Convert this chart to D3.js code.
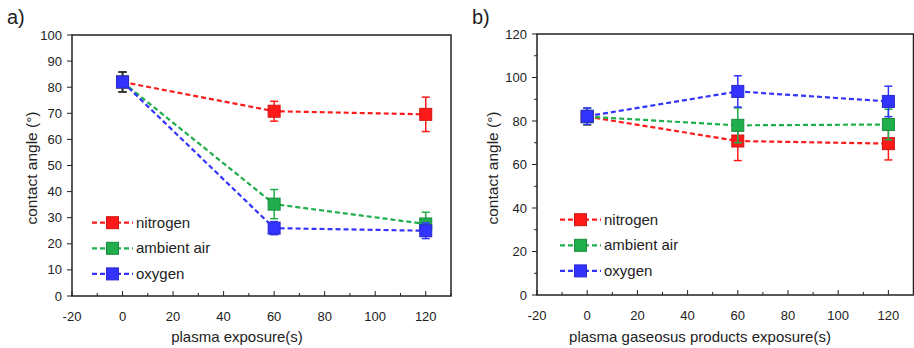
<!DOCTYPE html>
<html>
<head>
<meta charset="utf-8">
<script src="https://cdn.jsdelivr.net/npm/d3@7"></script>
<style>
  body { margin: 0; background: #fff; }
  svg text { font-family: "Liberation Sans", Arial, sans-serif; fill: #222; }
</style>
</head>
<body>
<div id="chart"></div>
<script>
const WIDTH = 914;
const HEIGHT = 348;

// data
const times = [0, 60, 120];
const seriesNames = ["nitrogen", "ambient air", "oxygen"];
const seriesColors = ["#ff1a1a", "#1fae4b", "#3333ff"];

// panel a) plasma exposure
const aNitrogen = [82, 70.8, 69.6];
const aNitrogenErr = [3.8, 3.8, 6.6];
const aAir = [82, 35.2, 27.6];
const aAirErr = [3.8, 5.6, 4.5];
const aOxygen = [82, 26.0, 25.0];
const aOxygenErr = [3.8, 2.5, 3.0];
const aYTicks = [0, 10, 20, 30, 40, 50, 60, 70, 80, 90, 100];

// panel b) plasma gaseous products exposure
const bNitrogen = [82, 70.8, 69.6];
const bNitrogenErr = [3.8, 9.0, 7.5];
const bAir = [82, 78.0, 78.4];
const bAirErr = [3.8, 8.0, 7.0];
const bOxygen = [82.2, 93.6, 89.0];
const bOxygenErr = [3.8, 7.2, 7.0];
const bYTicks = [0, 20, 40, 60, 80, 100, 120];
const bYMinor = [10, 30, 50, 70, 90, 110];

const xTicks = [-20, 0, 20, 40, 60, 80, 100, 120];
const xMinor = [-10, 10, 30, 50, 70, 90, 110, 130];

const svg = d3.select('#chart').append('svg')
  .attr('width', WIDTH)
  .attr('height', HEIGHT);

function drawPanel(opt) {
  const g = svg.append('g');
  const x = d3.scaleLinear().domain([-20, 130]).range([opt.left, opt.right]);
  const y = d3.scaleLinear().domain([0, opt.yMax]).range([opt.bottom, opt.top]);

  // panel letter
  g.append('text')
    .attr('x', opt.letterX).attr('y', 24)
    .style('font-size', '20px')
    .text(opt.letter);

  // y axis ticks (outward)
  g.selectAll('.ytick').data(opt.yTicks).enter().append('line')
    .attr('x1', opt.left - 5).attr('x2', opt.left)
    .attr('y1', d => y(d)).attr('y2', d => y(d))
    .attr('stroke', '#222').attr('stroke-width', 1);
  g.selectAll('.yminor').data(opt.yMinor).enter().append('line')
    .attr('x1', opt.left - 3).attr('x2', opt.left)
    .attr('y1', d => y(d)).attr('y2', d => y(d))
    .attr('stroke', '#222').attr('stroke-width', 1);
  g.selectAll('.ylab').data(opt.yTicks).enter().append('text')
    .attr('x', opt.left - 10).attr('y', d => y(d) + 4.5)
    .attr('text-anchor', 'end')
    .style('font-size', '13px')
    .text(d => d);

  // x axis ticks (inward)
  g.selectAll('.xtick').data(xTicks).enter().append('line')
    .attr('x1', d => x(d)).attr('x2', d => x(d))
    .attr('y1', opt.bottom).attr('y2', opt.bottom - 5)
    .attr('stroke', '#222').attr('stroke-width', 1);
  g.selectAll('.xminor').data(xMinor).enter().append('line')
    .attr('x1', d => x(d)).attr('x2', d => x(d))
    .attr('y1', opt.bottom).attr('y2', opt.bottom - 3)
    .attr('stroke', '#222').attr('stroke-width', 1);
  g.selectAll('.xlab').data(xTicks).enter().append('text')
    .attr('x', d => x(d)).attr('y', opt.bottom + 25)
    .attr('text-anchor', 'middle')
    .style('font-size', '13px')
    .text(d => d);

  // frame
  g.append('rect')
    .attr('x', opt.left).attr('y', opt.top)
    .attr('width', opt.right - opt.left).attr('height', opt.bottom - opt.top)
    .attr('fill', 'none').attr('stroke', '#222').attr('stroke-width', 1.5);

  // axis titles
  g.append('text')
    .attr('x', (opt.titleX)).attr('y', 342)
    .attr('text-anchor', 'middle')
    .style('font-size', '15px')
    .text(opt.xTitle);
  g.append('text')
    .attr('transform', 'translate(' + opt.yTitleX + ',' + opt.yTitleY + ') rotate(-90)')
    .attr('text-anchor', 'middle')
    .style('font-size', '15.5px')
    .text('contact angle (°)');

  const line = d3.line().x(d => x(d.t)).y(d => y(d.v));

  opt.series.forEach((s, si) => {
    const pts = times.map((t, i) => ({ t: t, v: s.values[i], e: s.errs[i] }));
    const color = seriesColors[si];
    // dashed line
    g.append('path')
      .datum(pts)
      .attr('d', line)
      .attr('fill', 'none')
      .attr('stroke', color)
      .attr('stroke-width', 2.2)
      .attr('stroke-dasharray', '5,3');
    // error bars
    const eb = g.selectAll('.eb' + si).data(pts).enter().append('g')
      .attr('stroke', (d, i) => (i === 0 && opt.firstErrColor) ? opt.firstErrColor : color)
      .attr('stroke-width', 1.5);
    eb.append('line')
      .attr('x1', d => x(d.t)).attr('x2', d => x(d.t))
      .attr('y1', d => y(d.v + d.e)).attr('y2', d => y(d.v - d.e));
    eb.append('line')
      .attr('x1', d => x(d.t) - 4).attr('x2', d => x(d.t) + 4)
      .attr('y1', d => y(d.v + d.e)).attr('y2', d => y(d.v + d.e));
    eb.append('line')
      .attr('x1', d => x(d.t) - 4).attr('x2', d => x(d.t) + 4)
      .attr('y1', d => y(d.v - d.e)).attr('y2', d => y(d.v - d.e));
    // markers
    g.selectAll('.mk' + si).data(pts).enter().append('rect')
      .attr('x', d => x(d.t) - 6).attr('y', d => y(d.v) - 6)
      .attr('width', 12).attr('height', 12)
      .attr('fill', color)
      .attr('stroke', d3.color(color).darker(0.6))
      .attr('stroke-width', 1);
  });

  // legend
  seriesNames.forEach((name, i) => {
    const ly = opt.legendY + i * 25.6;
    g.append('line')
      .attr('x1', opt.legendX).attr('x2', opt.legendX + 41)
      .attr('y1', ly).attr('y2', ly)
      .attr('stroke', seriesColors[i]).attr('stroke-width', 2.2)
      .attr('stroke-dasharray', '5,3');
    g.append('rect')
      .attr('x', opt.legendX + 14.5).attr('y', ly - 6)
      .attr('width', 12).attr('height', 12)
      .attr('fill', seriesColors[i])
      .attr('stroke', d3.color(seriesColors[i]).darker(0.6)).attr('stroke-width', 1);
    g.append('text')
      .attr('x', opt.legendX + 44).attr('y', ly + 5)
      .style('font-size', '15px')
      .text(name);
  });
}

drawPanel({
  letter: 'a)', letterX: 7,
  left: 72, right: 451, top: 35, bottom: 296, yMax: 100,
  yTicks: aYTicks, yMinor: [],
  xTitle: 'plasma exposure(s)', titleX: 237,
  yTitleX: 37, yTitleY: 168,
  legendX: 92, legendY: 222.7,
  firstErrColor: '#333',
  series: [
    { values: aNitrogen, errs: aNitrogenErr },
    { values: aAir, errs: aAirErr },
    { values: aOxygen, errs: aOxygenErr }
  ]
});

drawPanel({
  letter: 'b)', letterX: 472,
  left: 537, right: 913.5, top: 34, bottom: 295, yMax: 120,
  yTicks: bYTicks, yMinor: bYMinor,
  xTitle: 'plasma gaseosus products exposure(s)', titleX: 700,
  yTitleX: 498, yTitleY: 168,
  legendX: 560, legendY: 219.7,
  series: [
    { values: bNitrogen, errs: bNitrogenErr },
    { values: bAir, errs: bAirErr },
    { values: bOxygen, errs: bOxygenErr }
  ]
});
</script>
</body>
</html>
